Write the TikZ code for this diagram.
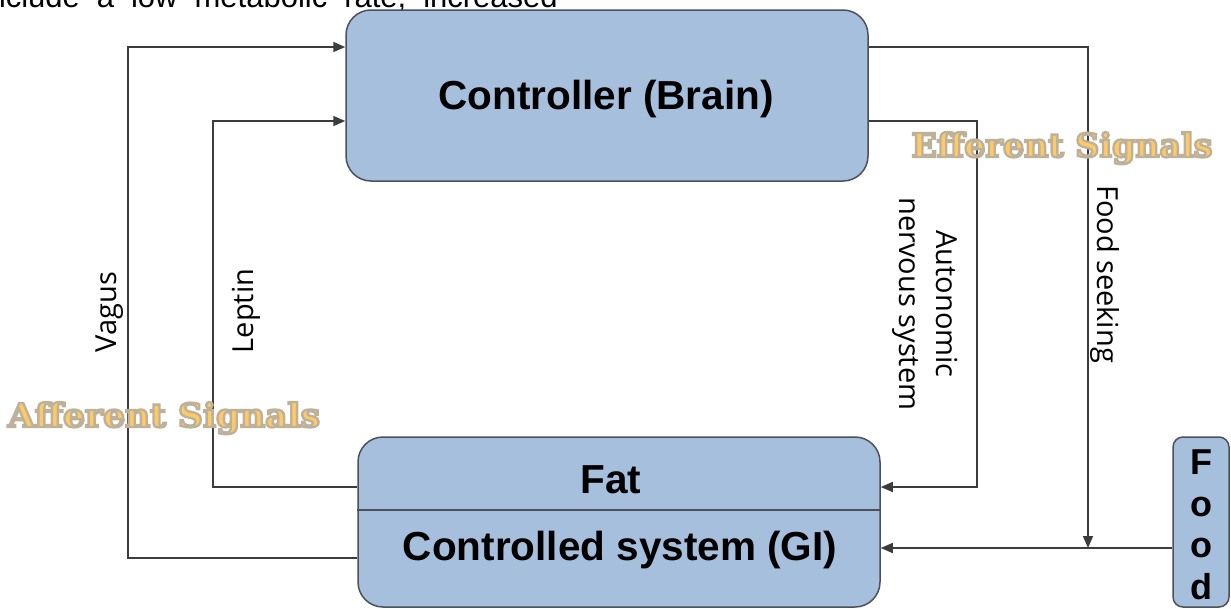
\documentclass[tikz,border=0pt]{standalone}
\usepackage{fontspec}
\setmainfont{Liberation Sans}
\newfontfamily\labelfont{Open Sans}
\newfontfamily\decofont{DejaVu Serif}
\usetikzlibrary{arrows.meta}
\definecolor{boxfill}{RGB}{166,191,221}
\definecolor{boxline}{RGB}{75,80,90}
\definecolor{conncol}{RGB}{60,60,60}
\definecolor{signalfill}{RGB}{255,201,102}
\newcommand{\outlinedtext}[1]{{\color{signalfill}\special{pdf:code 0.74 0.70 0.60 RG 0.7 w 2 Tr}#1\special{pdf:code 0 Tr}}}
\begin{document}
\begin{tikzpicture}[x=1pt,y=-1pt,
 box/.style={draw=boxline, line width=1.5pt, fill=boxfill, rounded corners=25pt, inner sep=0pt},
 conn/.style={draw=conncol, line width=1.6pt},
 arr/.style={conn, -{Triangle[length=12pt,width=10pt]}},
 boxtext/.style={font=\fontsize{40.5}{48}\selectfont\bfseries, inner sep=0pt},
 sidelabel/.style={font=\labelfont\fontsize{29}{37}\selectfont, inner sep=0pt, align=center},
 signal/.style={inner sep=0pt, anchor=base}
]
\useasboundingbox (0,0) rectangle (1231,608);
% clipped line of text at the top
\begin{scope}
\clip (0,0) rectangle (1231,608);
\node[anchor=base east, font=\fontsize{31}{36}\selectfont, inner sep=0pt] (toptext) at (558,7) {\spaceskip=17pt\relax include a low metabolic rate, increased};
\end{scope}
% boxes
\node[box, minimum width=522pt, minimum height=171pt] (brain) at (607,95.5) {};
\node[boxtext] (braintext) at (606,99) {Controller (Brain)};
\node[box, minimum width=522pt, minimum height=170pt] (fat) at (619,522) {};
\coordinate (divl) at ([yshift=12pt]fat.west);
\coordinate (divr) at ([yshift=12pt]fat.east);
\draw[draw=boxline, line width=1.5pt] (divl) -- (divr);
\node[boxtext] (fattext) at (611,480) {Fat};
\node[boxtext] (gitext) at (620,550) {Controlled system (GI)};
\node[box, rounded corners=10pt, minimum width=56pt, minimum height=170pt] (food) at (1201,522) {};
\node[font=\fontsize{36}{41.5}\selectfont\bfseries, align=center, inner sep=0pt] (foodtext) at (1201,525) {F\\o\\o\\d};
% connector coordinates
\coordinate (vagx) at (128,0);
\coordinate (lepx) at (213,0);
\coordinate (autx) at (977,0);
\coordinate (seekx) at (1088,0);
\coordinate (bV) at ([yshift=48.5pt]brain.west);
\coordinate (bL) at ([yshift=-25.5pt]brain.west);
\coordinate (bS) at ([yshift=48.5pt]brain.east);
\coordinate (bA) at ([yshift=-25.5pt]brain.east);
\coordinate (fL) at ([yshift=35pt]fat.west);
\coordinate (fV) at ([yshift=-36pt]fat.west);
\coordinate (fA) at ([yshift=35pt]fat.east);
\coordinate (fF) at ([yshift=-26pt]fat.east);
\coordinate (foodIn) at ([yshift=-26pt]food.west);
% connectors
\draw[arr] (fV) -| (vagx |- bV) -- (bV);
\draw[arr] (fL) -| (lepx |- bL) -- (bL);
\draw[arr] (bA) -| (autx |- fA) -- (fA);
\draw[arr] (bS) -| (seekx |- fF);
\draw[arr] (foodIn) -- (fF);
% labels
\node[sidelabel, rotate=90] (vagus) at (110,312) {Vagus};
\node[sidelabel, rotate=90] (leptin) at (246,311) {Leptin};
\node[sidelabel, rotate=-90] (ans) at (925,304) {Autonomic\\nervous system};
\node[sidelabel, rotate=-90] (seek) at (1105,274) {Food seeking};
% signal titles
\node[signal] (eff) at (1062,157) {\resizebox{301pt}{25pt}{\decofont\bfseries\outlinedtext{Efferent Signals}}};
\node[signal] (aff) at (164,427) {\resizebox{312pt}{25pt}{\decofont\bfseries\outlinedtext{Afferent Signals}}};
\end{tikzpicture}
\end{document}
